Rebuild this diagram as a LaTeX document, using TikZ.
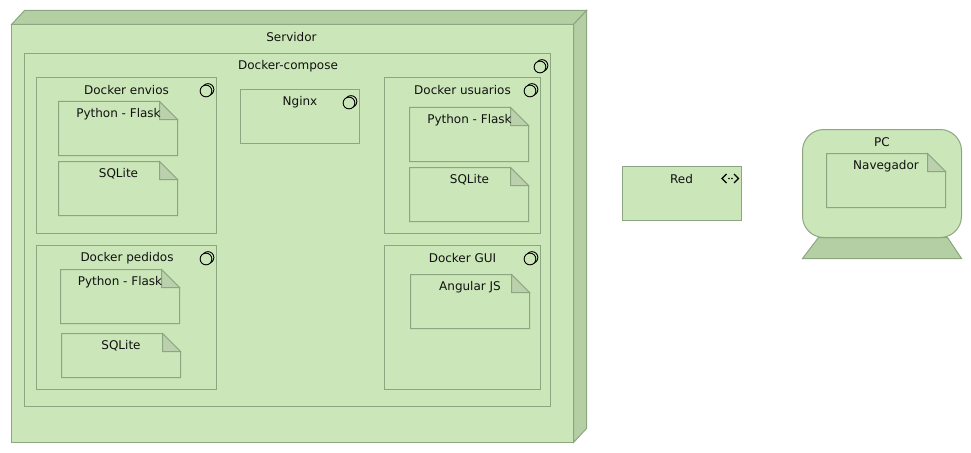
\documentclass[tikz,border=0pt]{standalone}
\usepackage{fontspec}
\setmainfont{DejaVu Sans}
\definecolor{boxfill}{HTML}{CBE6B8}
\definecolor{boxedge}{HTML}{8CA681}
\definecolor{boxdark}{HTML}{B4CFA3}
\definecolor{foldfill}{HTML}{BBD0AC}
\definecolor{labelink}{HTML}{111111}
\tikzset{
  x=0.75pt,y=-0.75pt,
  shell/.style={draw=boxedge,fill=boxfill,line width=0.75pt,line join=miter},
  shade/.style={draw=boxedge,fill=boxdark,line width=0.75pt},
  foldpart/.style={draw=boxedge,fill=foldfill,line width=0.75pt},
  ringline/.style={draw=black,line width=0.7pt},
  netline/.style={draw=black,line width=0.9pt},
  lbl/.style={inner sep=0pt,text=labelink,font=\fontsize{9}{11}\selectfont,anchor=center}
}
\newcommand{\compbox}[7]{% name x1 y1 x2 y2 text textcx
  \draw[shell] (#2,#3) rectangle (#4,#5);
  \draw[ringline] (#4-8.5,#3+12) circle[radius=4.4pt];
  \draw[ringline,fill=boxfill] (#4-10.5,#3+13.5) circle[radius=4.4pt];
  \node[lbl] (#1) at (#7,#3+12.5) {#6};
}
\newcommand{\notebox}[7]{% name x1 y1 x2 y2 text textcx
  \draw[shell] (#2,#3) -- (#4-18,#3) -- (#4,#3+18) -- (#4,#5) -- (#2,#5) -- cycle;
  \draw[foldpart] (#4-18,#3) -- (#4-18,#3+18) -- (#4,#3+18) -- cycle;
  \node[lbl] (#1) at (#7,#3+12.5) {#6};
}
\begin{document}
\begin{tikzpicture}
\useasboundingbox (0,0) rectangle (971,453);
\fill[white] (0,0) rectangle (971,453);
\begin{scope}[shift={(0.5,0.5)}]
% Servidor
\draw[shell] (11,24) rectangle (573,442);
\draw[shade] (11,24) -- (24,10) -- (586,10) -- (573,24) -- cycle;
\draw[shade] (573,24) -- (586,10) -- (586,428) -- (573,442) -- cycle;
\node[lbl] (servidor) at (291,36.5) {Servidor};
% compose
\compbox{compose}{24}{53}{550}{406}{Docker-compose}{287.5}
% envios
\compbox{envios}{36}{77}{216}{233}{Docker envios}{126}
\notebox{envpy}{58}{101}{177}{155}{Python - Flask}{118}
\notebox{envsql}{58}{161}{177}{215}{SQLite}{118}
% pedidos
\compbox{pedidos}{36}{245}{216}{389}{Docker pedidos}{126.5}
\notebox{pedpy}{60}{269}{179}{323}{Python - Flask}{119.5}
\notebox{pedsql}{61}{333}{180}{377}{SQLite}{120.5}
% nginx
\compbox{nginx}{240}{89}{359}{143}{Nginx}{299.5}
% usuarios
\compbox{usuarios}{384}{77}{540}{233}{Docker usuarios}{462}
\notebox{usrpy}{409}{107}{528}{161}{Python - Flask}{469}
\notebox{usrsql}{409}{167}{528}{221}{SQLite}{469}
% GUI
\compbox{gui}{384}{245}{540}{389}{Docker GUI}{462}
\notebox{angular}{410}{274}{529}{328}{Angular JS}{469.5}
% Red
\draw[shell] (622,166) rectangle (741,220);
\node[lbl] (red) at (681,178.5) {Red};
\draw[netline] (726,173.5) -- (721.5,178) -- (726,182.5);
\draw[netline] (733.5,173.5) -- (738,178) -- (733.5,182.5);
\fill[black] (728.5,178) circle[radius=0.6pt] (731.5,178) circle[radius=0.6pt];
% PC
\draw[shade] (818,237) -- (947,237) -- (961,258) -- (802,258) -- cycle;
\draw[shell,rounded corners=16pt] (802,129) rectangle (961,237);
\node[lbl] (pc) at (881.5,141.5) {PC};
\notebox{nav}{826}{153}{945}{207}{Navegador}{885.5}
\end{scope}
\end{tikzpicture}
\end{document}
